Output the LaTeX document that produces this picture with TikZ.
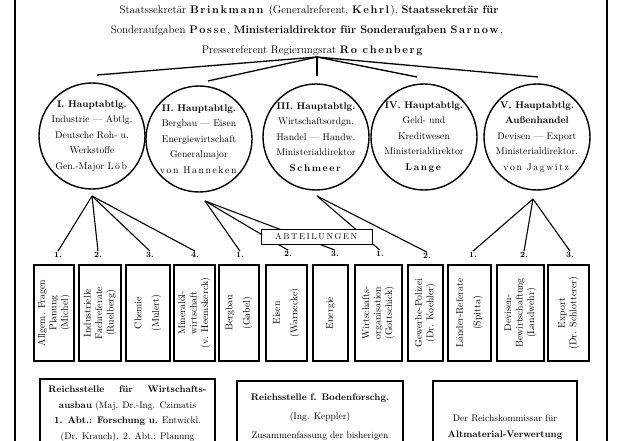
\documentclass[tikz,border=0pt]{standalone}
\usepackage{fontspec}
\usepackage{tikz}
\usetikzlibrary{positioning, calc}

% gesperrt (letter spaced) names
\makeatletter
\newcommand{\gesp}[1]{\gesp@#1\relax}
\def\gesp@#1{\ifx#1\relax\else#1\kern1.6pt\expandafter\gesp@\fi}
\makeatother

\begin{document}
\begin{tikzpicture}[x=1pt, y=-1pt,
    hauptabt/.style={circle, draw, line width=1.4pt, minimum size=106pt, inner sep=0pt},
    htext/.style={font=\fontsize{9.7}{15.5}\selectfont, align=center},
    abt/.style={rectangle, draw, line width=1.8pt, rotate=90, minimum width=96pt, font=\fontsize{9.8}{11.5}\selectfont, align=center, inner sep=1pt},
    nr/.style={font=\bfseries\fontsize{8}{8}\selectfont, inner sep=1pt},
    fan/.style={line width=1.1pt},
    kopfzeile/.style={font=\fontsize{11}{12}\selectfont},
    stelle/.style={rectangle, draw, line width=1.8pt, anchor=north, align=center}
]
\useasboundingbox (0,0) rectangle (619,441);
\clip (0,0) rectangle (619,441);

% frame
\draw[line width=1.5pt] (15,-5) -- (15,446);
\draw[line width=1.5pt] (607,-5) -- (607,446);

% head
\node[kopfzeile] (kopf1) at (309,11) {Staatssekretär \textbf{\gesp{Brinkmann}} (Generalreferent, \textbf{\gesp{Kehrl}}), \textbf{Staatssekretär für}};
\node[kopfzeile] (kopf2) at (307,31) {Sonderaufgaben \textbf{\gesp{Posse}}, \textbf{Ministerialdirektor für Sonderaufgaben \gesp{Sarnow}},};
\node[kopfzeile] (kopf3) at (313,51) {Pressereferent Regierungsrat \textbf{\gesp{Ro}\ \gesp{chenberg}}};

% Hauptabteilungen
\node[hauptabt, label={[htext]center:{\textbf{I. Hauptabtlg.}\\Industrie --- Abtlg.\\Deutsche Roh- u.\\Werkstoffe\\Gen.-Major \gesp{Löb}}}] (h1) at (92,136) {};
\node[hauptabt, label={[htext]center:{\textbf{II. Hauptabtlg.}\\Bergbau --- Eisen\\Energiewirtschaft\\Generalmajor\\\gesp{von}\ \gesp{Hanneken}}}] (h2) at (199,139) {};
\node[hauptabt, label={[htext]center:{\textbf{III. Hauptabtlg.}\\Wirtschaftsordgn.\\Handel --- Handw.\\Ministerialdirektor\\\textbf{\gesp{Schmeer}}}}] (h3) at (316,137) {};
\node[hauptabt, label={[htext]center:{\textbf{IV. Hauptabtlg.}\\Geld- und\\Kreditwesen\\Ministerialdirektor\\\textbf{\gesp{Lange}}}}] (h4) at (424,137) {};
\node[hauptabt, label={[htext]center:{\textbf{V. Hauptabtlg.}\\\textbf{Außenhandel}\\Devisen --- Export\\Ministerialdirektor.\\\gesp{von}\ \gesp{Jagwitz}}}] (h5) at (537,137) {};

\coordinate (kopf) at (317,57);
\coordinate (t1) at (97,75);
\coordinate (t2) at (208,81);
\coordinate (t3) at (317,76);
\coordinate (t4) at (417,77);
\coordinate (t5) at (538,77);
\foreach \i in {1,...,5}
    \draw[line width=1.3pt] (kopf) -- (t\i);

% Abteilungen
\node[abt, minimum height=40pt] (a1) at (54,313) {Allgem. Fragen\\Planung\\(Michel)};
\node[abt, minimum height=42pt] (a2) at (100,313) {Industrielle\\Fachreferate\\(Ruelberg)};
\node[abt, minimum height=44pt] (a3) at (148,313) {Chemie\\[6pt](Mulert)};
\node[abt, minimum height=41pt] (a4) at (194.5,313) {Mineralöl-\\wirtschaft\\(v. Heemskerck)};
\node[abt, minimum height=40pt] (a5) at (239,313) {Bergbau\\[6pt](Gabel)};
\node[abt, minimum height=41pt] (a6) at (286.5,313) {Eisen\\[6pt](Warnecke)};
\node[abt, minimum height=35pt] (a7) at (330.5,313) {Energie};
\node[abt, minimum height=47pt] (a8) at (378.5,313) {Wirtschafts-\\organisation\\(Gottschick)};
\node[abt, minimum height=35pt] (a9) at (425.5,313) {Gewerbe-Polizei\\(Dr. Koehler)};
\node[abt, minimum height=43pt] (a10) at (469.5,313) {Länder-Referate\\[6pt](Spitta)};
\node[abt, minimum height=47pt] (a11) at (520.5,313) {Devisen-\\Bewirtschaftung\\(Landwehr)};
\node[abt, minimum height=41pt] (a12) at (568.5,313) {Export\\(Dr. Schlotterer)};

\node[nr] (n1) at (58,255) {1.};
\node[nr] (n2) at (98,255) {2.};
\node[nr] (n3) at (150,255) {3.};
\node[nr] (n4) at (195,255) {4.};
\node[nr] (n5) at (240,255) {1.};
\node[nr] (n6) at (288,254) {2.};
\node[nr] (n7) at (335,254) {3.};
\node[nr] (n8) at (380,254) {1.};
\node[nr] (n9) at (427,256) {2.};
\node[nr] (n10) at (473,255) {1.};
\node[nr] (n11) at (524,255) {2.};
\node[nr] (n12) at (570,255) {3.};

\coordinate (f1) at (92,196);
\coordinate (f2) at (205,201);
\coordinate (f3) at (317,196);
\coordinate (f5) at (533,199);
\foreach \j in {1,...,4}
    \draw[fan] (f1) -- (n\j.north);
\foreach \j in {5,6,7}
    \draw[fan] (f2) -- (n\j.north);
\foreach \j in {8,9}
    \draw[fan] (f3) -- (n\j.north);
\foreach \j in {10,11,12}
    \draw[fan] (f5) -- (n\j.north);

\node[draw, fill=white, line width=1.2pt, minimum width=111pt, minimum height=15pt, inner sep=1pt, font=\fontsize{8.5}{8.5}\selectfont] (abteil) at (317,237) {\gesp{ABTEILUNGEN}};

% Reichsstellen
\node[stelle, minimum width=175pt, inner ysep=7pt, font=\fontsize{9.5}{15.5}\selectfont] (rwa) at (127.5,378) {\makebox[158pt][s]{\textbf{Reichsstelle für Wirtschafts-}}\\\textbf{ausbau} (Maj. Dr.-Ing. Czimatis\\\textbf{1. Abt.: Forschung u.} Entwickl.\\(Dr. Krauch). 2. Abt.: Planung};
\node[stelle, minimum width=166pt, inner ysep=13pt, font=\fontsize{9.5}{19}\selectfont] (rbf) at (320,380) {\textbf{Reichsstelle f. Bodenforschg.}\\(Ing. Keppler)\\Zusammenfassung der bisherigen};
\node[stelle, minimum width=144pt, inner ysep=34pt, font=\fontsize{9.5}{16}\selectfont] (rka) at (505,380) {Der Reichskommissar für\\\textbf{Altmaterial-Verwertung}};
\end{tikzpicture}
\end{document}
